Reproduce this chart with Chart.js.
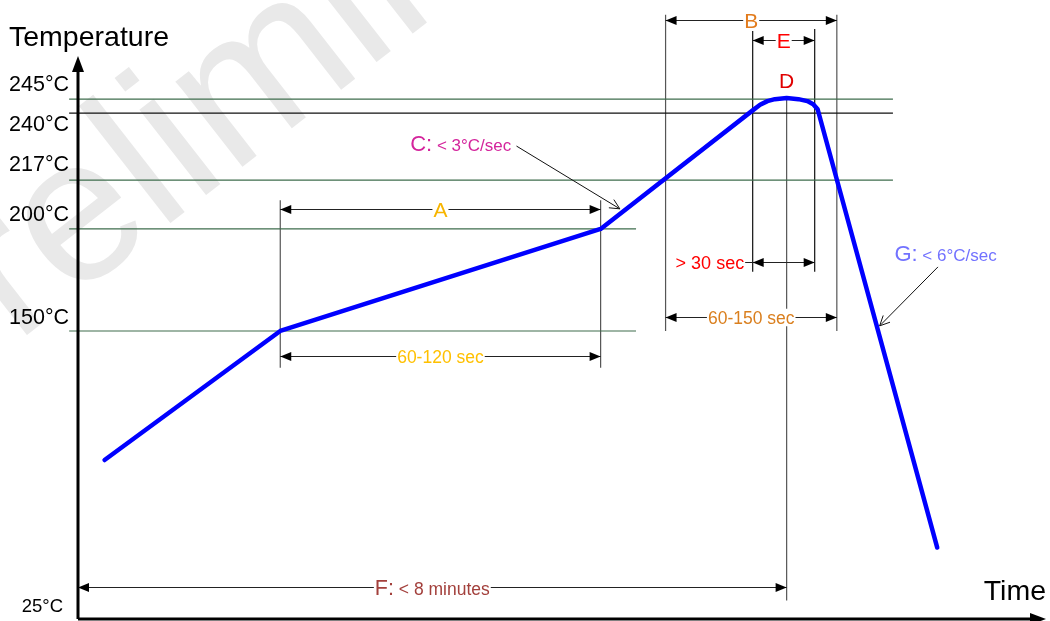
<!DOCTYPE html>
<html>
<head>
<meta charset="utf-8">
<script src="https://cdn.jsdelivr.net/npm/chart.js@4.4.1/dist/chart.umd.min.js"></script>
<style>
  html, body { margin: 0; padding: 0; background: #fff; }
</style>
</head>
<body>
<canvas id="reflowChart" width="1050" height="621"></canvas>
<script>
// reflow profile: time in seconds, temperature in °C (schematic)
const profileTime = [18, 137, 354, 457, 462, 467, 472, 480, 488, 494, 498, 501, 582];
const profileTemp = [94, 150, 200, 241, 243, 244.3, 245, 245.4, 245, 244.3, 243.2, 241.4, 56];

// temperature levels and their labels
const levelTemps = [245, 240, 217, 200, 150, 25];
const levelLabels = ['245°C', '240°C', '217°C', '200°C', '150°C', '25°C'];

// horizontal guide lines
const guideTemps = [245, 240, 217, 200, 150];
const guideEnd = [552, 552, 552, 378, 378];

// vertical marker lines (time, top temp, bottom temp)
const markerTimes = [137, 354, 398, 457, 480, 499, 514];
const markerTop = [210, 210, 275, 270, 245, 270, 275];
const markerBottom = [134, 134, 150, 179, 33, 179, 150];

// dimension arrows
const spanFrom = [137, 137, 398, 457, 457, 398, 0];
const spanTo = [354, 354, 514, 499, 499, 514, 480];
const spanTemp = [207, 139, 273, 266, 184, 157, 39];
const spanText = ['A', '60-120 sec', 'B', 'E', '> 30 sec', '60-150 sec', 'F:| < 8 minutes'];

// ---- styles ----
const FONT = "'Liberation Sans', Arial, sans-serif";
const spanStyle = [
    { color: '#f7b500', size: 21 },
    { color: '#ffc000', size: 17.5 },
    { color: '#e27b1c', size: 21 },
    { color: '#ff0000', size: 21 },
    { color: '#ff0000', size: 18, textAt: 428 },
    { color: '#da7f1e', size: 17.5 },
    { color: '#a3403c', size: 21.5, small: 17.5 },
];
const labelShift = [-14, 12, -15, -14, -13, -12];

// piecewise temperature axis (the drawing is not to scale)
const stopTemps = [25, 150, 200, 217, 240, 245, 260];
const stopPos = [0, 0.5125, 0.694, 0.781, 0.900, 0.925, 1];

function tempToDecimal(v) {
    let i = 0;
    while (i < stopTemps.length - 2 && v > stopTemps[i + 1]) i++;
    const f = (v - stopTemps[i]) / (stopTemps[i + 1] - stopTemps[i]);
    return stopPos[i] + f * (stopPos[i + 1] - stopPos[i]);
}
function decimalToTemp(d) {
    let i = 0;
    while (i < stopPos.length - 2 && d > stopPos[i + 1]) i++;
    const f = (d - stopPos[i]) / (stopPos[i + 1] - stopPos[i]);
    return stopTemps[i] + f * (stopTemps[i + 1] - stopTemps[i]);
}

class ReflowScale extends Chart.LinearScale {
    getPixelForValue(value) {
        return this.getPixelForDecimal(tempToDecimal(value));
    }
    getValueForPixel(pixel) {
        return decimalToTemp(this.getDecimalForPixel(pixel));
    }
}
ReflowScale.id = 'reflow';
ReflowScale.defaults = Chart.LinearScale.defaults;
Chart.register(ReflowScale);

function arrowHead(ctx, x, y, dx, dy, len, half) {
    ctx.beginPath();
    ctx.moveTo(x, y);
    ctx.lineTo(x - dx * len - dy * half, y - dy * len + dx * half);
    ctx.lineTo(x - dx * len + dy * half, y - dy * len - dx * half);
    ctx.closePath();
    ctx.fill();
}

function openHead(ctx, x, y, ang, len) {
    ctx.beginPath();
    ctx.moveTo(x + Math.cos(ang + 0.45) * len, y + Math.sin(ang + 0.45) * len);
    ctx.lineTo(x, y);
    ctx.lineTo(x + Math.cos(ang - 0.45) * len, y + Math.sin(ang - 0.45) * len);
    ctx.stroke();
}

// draws "big: small" style labels, returns extent
function mixedText(ctx, parts, x, y, big, small, color, align) {
    ctx.fillStyle = color;
    ctx.textBaseline = 'alphabetic';
    ctx.textAlign = 'left';
    const sizes = parts.map((p, i) => (i === 0 ? big : small));
    let w = 0;
    parts.forEach((p, i) => { ctx.font = sizes[i] + 'px ' + FONT; w += ctx.measureText(p).width; });
    let cx = align === 'center' ? x - w / 2 : (align === 'right' ? x - w : x);
    const start = cx;
    parts.forEach((p, i) => {
        ctx.font = sizes[i] + 'px ' + FONT;
        ctx.fillText(p, cx, y + big * 0.36);
        cx += ctx.measureText(p).width;
    });
    return { left: start, right: start + w };
}

const watermark = {
    id: 'watermark',
    beforeDraw(chart) {
        const ctx = chart.ctx;
        ctx.save();
        ctx.translate(-92, 428);
        ctx.rotate(-38 * Math.PI / 180);
        ctx.font = '205px ' + FONT;
        ctx.fillStyle = '#e9e9e9';
        ctx.fillText('Preliminary', 0, 0);
        ctx.restore();
    }
};

const annotations = {
    id: 'annotations',
    afterDatasetsDraw(chart) {
        const ctx = chart.ctx;
        const xs = chart.scales.x, ys = chart.scales.y;
        const px = t => xs.getPixelForValue(t);
        const py = v => ys.getPixelForValue(v);
        const area = chart.chartArea;
        ctx.save();

        // dimension arrows
        spanText.forEach((txt, i) => {
            const st = spanStyle[i];
            const x1 = px(spanFrom[i]), x2 = px(spanTo[i]), y = Math.round(py(spanTemp[i])) + 0.5;
            ctx.strokeStyle = '#222';
            ctx.lineWidth = 1;
            ctx.beginPath();
            ctx.moveTo(x1, y);
            ctx.lineTo(x2, y);
            ctx.stroke();
            ctx.fillStyle = '#000';
            arrowHead(ctx, x1, y, -1, 0, 11, 4.5);
            arrowHead(ctx, x2, y, 1, 0, 11, 4.5);

            const parts = txt.split('|');
            const cx = st.textAt !== undefined ? px(st.textAt) : (x1 + x2) / 2;
            let w = 0;
            parts.forEach((p, k) => { ctx.font = (k === 0 ? st.size : st.small) + 'px ' + FONT; w += ctx.measureText(p).width; });
            ctx.fillStyle = '#fff';
            ctx.fillRect(cx - w / 2 - 1, y - st.size * 0.5, w + 2, st.size);
            const box = mixedText(ctx, parts, cx, y, st.size, st.small || st.size, st.color, 'center');
            if (st.textAt !== undefined) {
                ctx.strokeStyle = '#222';
                ctx.beginPath();
                ctx.moveTo(box.right + 1, y);
                ctx.lineTo(x1, y);
                ctx.stroke();
            }
        });

        // peak label
        mixedText(ctx, ['D'], px(480), py(251.8), 21, 21, '#e00000', 'center');

        // slope callouts
        mixedText(ctx, ['C:', ' < 3°C/sec'], px(225), py(229.8), 22, 17, '#d4249c', 'left');
        mixedText(ctx, ['G:', ' < 6°C/sec'], px(553), py(188.2), 22, 17, '#7272ff', 'left');
        ctx.strokeStyle = '#111';
        ctx.lineWidth = 1;
        [[297, 228.7, 367, 207], [582.5, 181.4, 543, 152.5]].forEach(([t1, v1, t2, v2]) => {
            const ax = px(t1), ay = py(v1), bx = px(t2), by = py(v2);
            ctx.beginPath();
            ctx.moveTo(ax, ay);
            ctx.lineTo(bx, by);
            ctx.stroke();
            openHead(ctx, bx, by, Math.atan2(ay - by, ax - bx), 11);
        });

        // axes with arrows
        ctx.strokeStyle = '#000';
        ctx.fillStyle = '#000';
        ctx.lineWidth = 3;
        ctx.beginPath();
        ctx.moveTo(area.left, area.bottom);
        ctx.lineTo(area.left, area.top + 10);
        ctx.moveTo(area.left, area.bottom);
        ctx.lineTo(area.right - 10, area.bottom);
        ctx.stroke();
        arrowHead(ctx, area.left, area.top - 1, 0, -1, 16, 6);
        arrowHead(ctx, area.right + 1, area.bottom, 1, 0, 16, 6);

        // level labels
        ctx.textAlign = 'right';
        ctx.textBaseline = 'middle';
        levelLabels.forEach((lbl, i) => {
            const last = i === levelLabels.length - 1;
            ctx.font = (last ? 18.5 : 21.5) + 'px ' + FONT;
            ctx.fillText(lbl, last ? 63 : 69, py(levelTemps[i]) + labelShift[i]);
        });

        // axis titles
        ctx.font = '28.5px ' + FONT;
        ctx.textAlign = 'left';
        ctx.fillText('Temperature', 9, 38);
        ctx.textAlign = 'right';
        ctx.fillText('Time', 1046, 592);
        ctx.restore();
    }
};

const datasets = [{
    data: profileTime.map((t, i) => ({ x: t, y: profileTemp[i] })),
    borderColor: '#0000ff',
    borderWidth: 4.5,
    borderJoinStyle: 'round',
    borderCapStyle: 'round',
    pointRadius: 0,
    tension: 0,
}];

guideTemps.forEach((v, i) => {
    datasets.push({
        data: [{ x: -6, y: v }, { x: guideEnd[i], y: v }],
        borderColor: v === 240 ? '#111111' : '#3e6c4c',
        borderWidth: 1.2,
        pointRadius: 0,
        clip: false,
    });
});

markerTimes.forEach((t, i) => {
    datasets.push({
        data: [{ x: t, y: markerTop[i] }, { x: t, y: markerBottom[i] }],
        borderColor: (t === 457 || t === 499) ? '#111111' : '#555555',
        borderWidth: 1.2,
        pointRadius: 0,
        clip: false,
    });
});

new Chart(document.querySelector('#reflowChart'), {
    type: 'line',
    data: { datasets: datasets },
    options: {
        responsive: false,
        animation: false,
        layout: { padding: { left: 78, top: 57, right: 5, bottom: 2 } },
        plugins: {
            legend: { display: false },
            tooltip: { enabled: false },
        },
        scales: {
            x: { type: 'linear', min: 0, max: 655, display: false },
            y: { type: 'reflow', min: 25, max: 260, display: false },
        },
    },
    plugins: [watermark, annotations],
});
</script>
</body>
</html>
